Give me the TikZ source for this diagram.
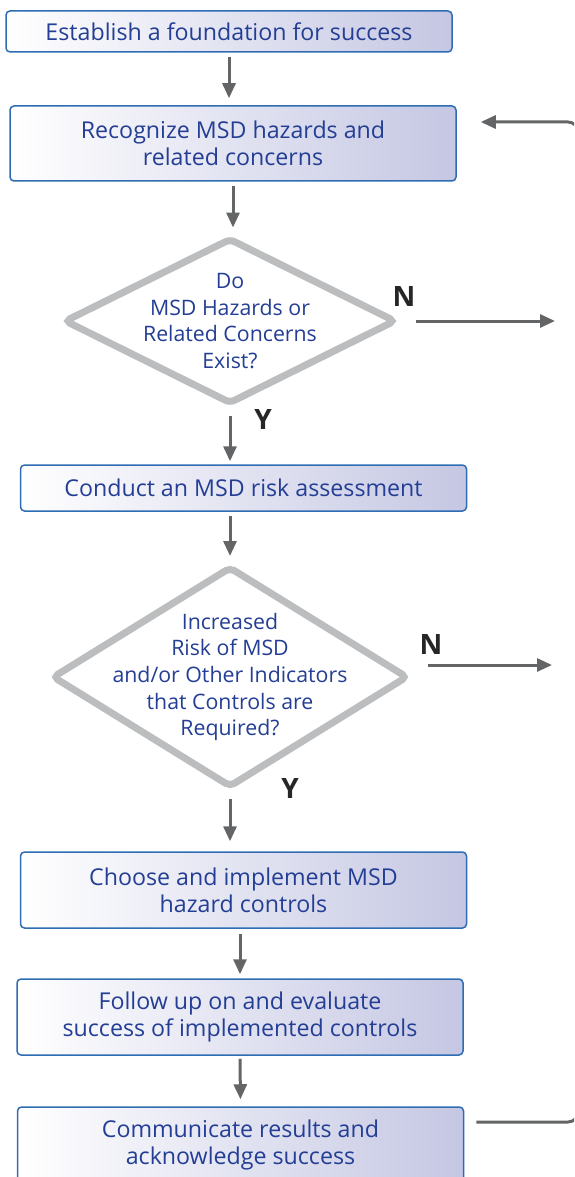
\documentclass[tikz,border=0pt]{standalone}
\usepackage{fontspec}
\setmainfont{Open Sans}
\usetikzlibrary{shapes.geometric,arrows.meta}
\definecolor{boxblue}{HTML}{2E6DB4}
\definecolor{boxlav}{HTML}{C5C7E3}
\definecolor{txtblue}{HTML}{233E94}
\definecolor{diagrey}{HTML}{BCBDBF}
\definecolor{arrgrey}{HTML}{646567}
\newcommand{\flowfont}{\fontsize{23.2}{27}\selectfont}
\newcommand{\askfont}{\fontsize{21.3}{26.7}\selectfont}
\tikzset{
  stepbox/.style={draw=boxblue, line width=1.5pt, rounded corners=4pt, left color=white, right color=boxlav, minimum width=446pt, inner sep=0pt, text=txtblue, align=center, font=\flowfont},
  decision/.style={diamond, draw=diagrey, line width=7pt, fill=white, rounded corners=5pt, inner sep=0pt},
  dtext/.style={text=txtblue, align=center, font=\askfont},
  flow/.style={draw=arrgrey, line width=3pt, -{Triangle[length=15pt,width=13pt]}},
  yn/.style={font=\fontsize{28}{28}\selectfont\bfseries, text=black!85}
}
\begin{document}
\begin{tikzpicture}[x=1pt,y=-1pt]
\useasboundingbox (0,0) rectangle (574,1177);
\clip (0,0) rectangle (574,1177);
\node[stepbox, minimum height=41pt] (b1) at (229,31.5) {Establish a foundation for success};
\node[stepbox, minimum height=75pt] (b2) at (233,143.5) {Recognize MSD hazards and\\related concerns};
\node[decision, minimum width=332pt, minimum height=166pt, label={[dtext]center:Do\\MSD Hazards or\\Related Concerns\\Exist?}] (d1) at (230,321) {};
\node[stepbox, minimum height=46pt] (b3) at (243.5,488) {Conduct an MSD risk assessment};
\node[decision, minimum width=356pt, minimum height=221pt, label={[dtext]center:Increased\\Risk of MSD\\and/or Other Indicators\\that Controls are\\Required?}] (d2) at (230,677) {};
\node[stepbox, minimum height=76pt] (b4) at (243.5,890) {Choose and implement MSD\\hazard controls};
\node[stepbox, minimum height=76pt] (b5) at (240,1017) {Follow up on and evaluate\\success of implemented controls};
\node[stepbox, minimum height=76pt] (b6) at (240.5,1145) {Communicate results and\\acknowledge success};
\node[yn] (n1) at (404,297) {N};
\node[yn] (y1) at (263,420) {Y};
\node[yn] (n2) at (431,644) {N};
\node[yn] (y2) at (290,788) {Y};
\coordinate (out1) at (555,321);
\coordinate (out2) at (552,665);
\coordinate (loopA) at (578,1122);
\coordinate (loopB) at (578,122);
\draw[flow, shorten <=4pt, shorten >=7pt] (b1.south) -- (b1.south |- b2.north);
\draw[flow, shorten <=4pt, shorten >=7pt] (b2.south) -- (b2.south |- d1.north);
\draw[flow, shorten <=8pt, shorten >=3pt] (d1.south) -- (d1.south |- b3.north);
\draw[flow, shorten <=4pt, shorten >=7pt] (b3.south -| d2.north) -- (d2.north);
\draw[flow, shorten <=8pt, shorten >=10pt] (d2.south) -- (d2.south |- b4.north);
\draw[flow, shorten <=5pt, shorten >=4pt] (b4.south -| b5.north) -- (b5.north);
\draw[flow, shorten <=3pt, shorten >=7pt] (b5.south) -- (b6.north);
\draw[flow, shorten <=16pt] (d1.east) -- (out1);
\draw[flow] ([xshift=16pt]d2.east |- out2) -- (out2);
\draw[flow, rounded corners=10pt] ([xshift=12pt,yshift=23pt]b6.east) -- (loopA) -- (loopB) -- ([xshift=24pt,yshift=21.5pt]b2.east);
\end{tikzpicture}
\end{document}
